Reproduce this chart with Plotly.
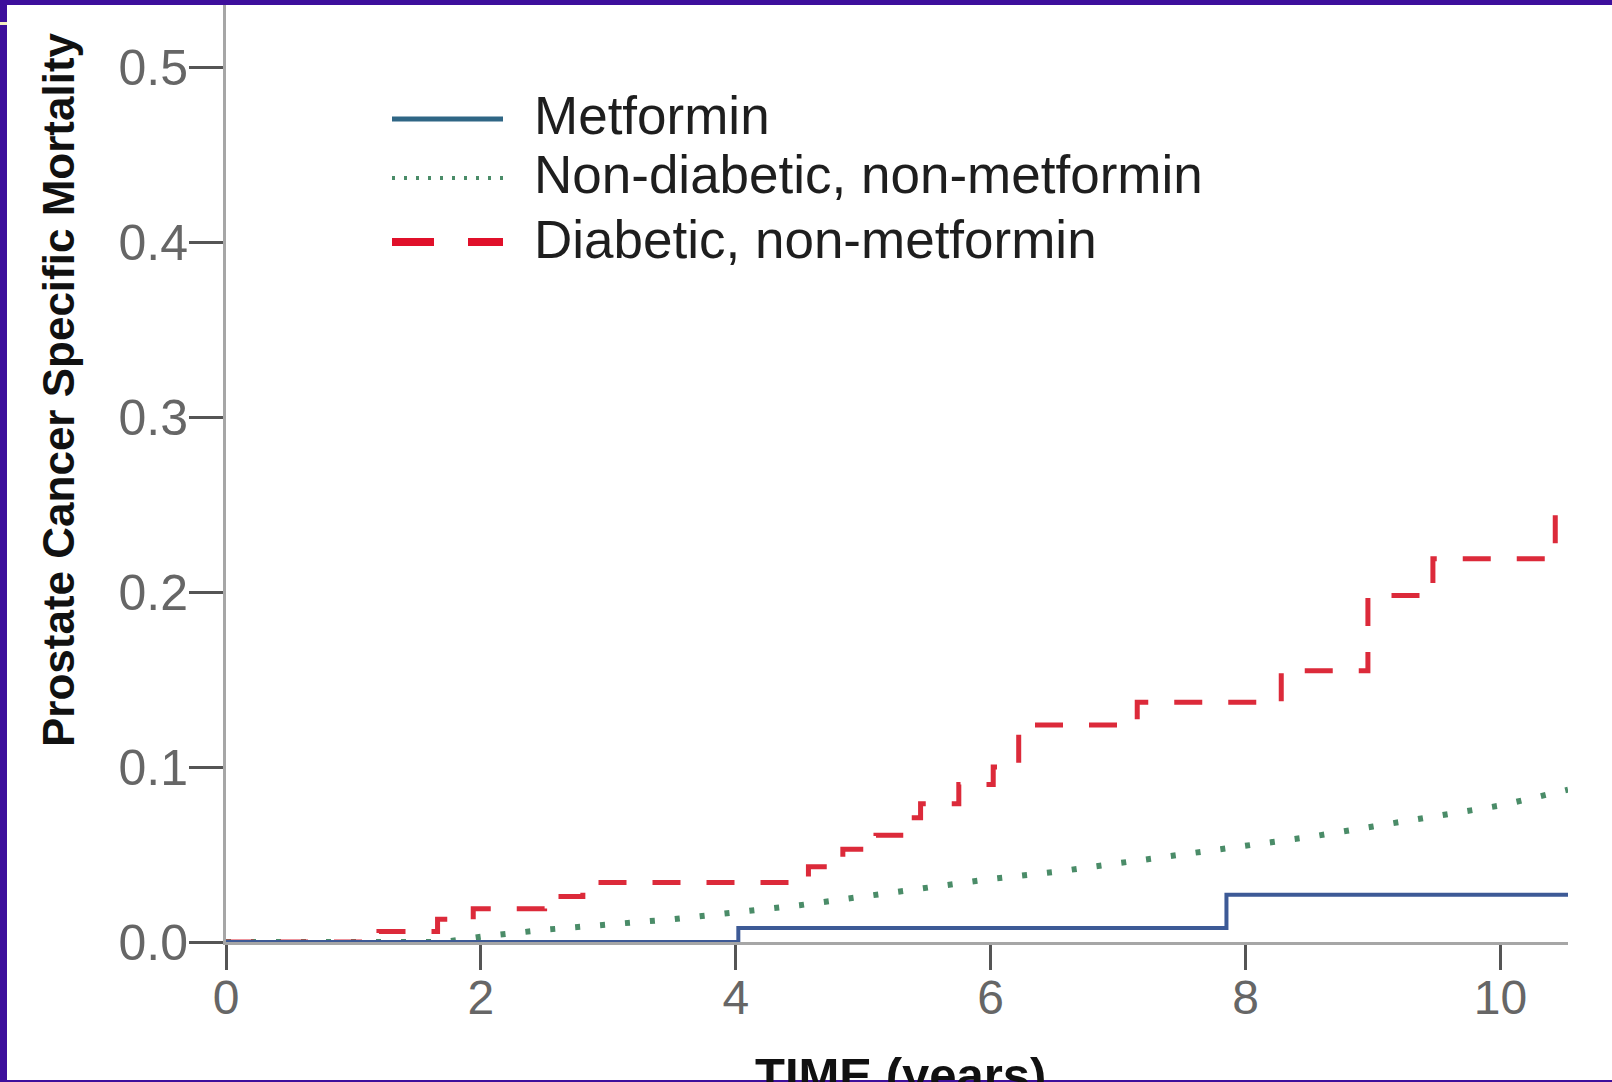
import plotly.graph_objects as go

# ---------------- data ----------------
series_names = ["Metformin", "Non-diabetic, non-metformin", "Diabetic, non-metformin"]

metformin_t = [0, 4.02, 7.85, 10.53]
metformin_v = [0.0, 0.008, 0.027, 0.027]

nondiab_t = [0, 1.7, 2.0, 2.5, 3.0, 3.5, 4.0, 4.5, 5.0, 5.5, 6.0, 6.5, 7.0, 7.5, 8.0, 8.5, 9.0, 9.5, 10.0, 10.53]
nondiab_v = [0.0, 0.0, 0.003, 0.007, 0.010, 0.013, 0.017, 0.021, 0.026, 0.031, 0.036, 0.040, 0.045, 0.050, 0.055, 0.060, 0.066, 0.072, 0.078, 0.087]

diab_t = [0, 1.2, 1.66, 1.94, 2.5, 2.8, 4.57, 4.84, 5.1, 5.34, 5.45, 5.75, 6.02, 6.22, 7.15, 8.28, 8.96, 9.47, 10.43, 10.47]
diab_v = [0.0, 0.006, 0.013, 0.019, 0.026, 0.034, 0.043, 0.053, 0.061, 0.071, 0.079, 0.090, 0.100, 0.124, 0.137, 0.155, 0.198, 0.219, 0.247, 0.247]

x_ticks = [0, 2, 4, 6, 8, 10]
y_ticks = [0.0, 0.1, 0.2, 0.3, 0.4, 0.5]

x_title = "TIME (years)"
y_title = "Prostate Cancer Specific Mortality"

# ---------------- style ----------------
W, H = 1612, 1082
ML, MR, MT, MB = 226, 44, 0, 140
PW, PH = W - ML - MR, H - MT - MB
FONT = "Liberation Sans, Arial, sans-serif"

C_BLUE = "#3d5a96"
C_GREEN = "#4a8c68"
C_RED = "#dc2a3a"
C_BORDER = "#3d0f9c"


def px(xp):
    return (xp - ML) / PW


def py(yp):
    return (H - MB - yp) / PH


fig = go.Figure()
fig.add_trace(go.Scatter(x=nondiab_t, y=nondiab_v, mode="lines", name=series_names[1],
                         line=dict(color=C_GREEN, width=6, dash="5px,20px"), cliponaxis=False))
fig.add_trace(go.Scatter(x=diab_t, y=diab_v, mode="lines", name=series_names[2], line_shape="hv",
                         line=dict(color=C_RED, width=5, dash="28px,26px"), cliponaxis=False))
fig.add_trace(go.Scatter(x=metformin_t, y=metformin_v, mode="lines", name=series_names[0], line_shape="hv",
                         line=dict(color=C_BLUE, width=4), cliponaxis=False))

shapes = []
annotations = []

# custom legend
leg_rows = [(series_names[0], 119, dict(color="#2f6685", width=5)),
            (series_names[1], 178, dict(color=C_GREEN, width=4, dash="3px,9px")),
            (series_names[2], 242, dict(color="#e0102a", width=8, dash="42px,34px"))]
for name, yy, ln in leg_rows:
    shapes.append(dict(type="line", xref="paper", yref="paper", x0=px(392), x1=px(503), y0=py(yy), y1=py(yy), line=ln))
    annotations.append(dict(text=name, xref="paper", yref="paper", x=px(532), y=py(yy - 3), xanchor="left",
                            yanchor="middle", showarrow=False, font=dict(family=FONT, size=53, color="#1e1e1e")))

# axis titles
annotations.append(dict(text="<b>%s</b>" % y_title, xref="paper", yref="paper", x=px(58), y=py(390), textangle=-90,
                        xanchor="center", yanchor="middle", showarrow=False,
                        font=dict(family=FONT, size=44, color="#111111")))
annotations.append(dict(text="<b>%s</b>" % x_title, xref="paper", yref="paper", x=px(900), y=py(1046),
                        xanchor="center", yanchor="top", showarrow=False,
                        font=dict(family=FONT, size=49, color="#111111")))

# frame border
shapes += [
    dict(type="rect", xref="paper", yref="paper", x0=px(0), x1=px(7), y0=py(H), y1=py(0), fillcolor=C_BORDER, line=dict(width=0), layer="above"),
    dict(type="rect", xref="paper", yref="paper", x0=px(0), x1=px(W), y0=py(5), y1=py(0), fillcolor=C_BORDER, line=dict(width=0), layer="above"),
    dict(type="rect", xref="paper", yref="paper", x0=px(0), x1=px(W), y0=py(H), y1=py(1080), fillcolor=C_BORDER, line=dict(width=0), layer="above"),
    dict(type="rect", xref="paper", yref="paper", x0=px(0), x1=px(7), y0=py(25), y1=py(22), fillcolor="#f3eec0", line=dict(width=0), layer="above"),
]

y_top = (H - MB - MT) / 1750.0

fig.update_layout(
    width=W, height=H, autosize=False,
    margin=dict(l=ML, r=MR, t=MT, b=MB, pad=0),
    paper_bgcolor="white", plot_bgcolor="white",
    showlegend=False,
    shapes=shapes, annotations=annotations,
    font=dict(family=FONT),
)
fig.update_xaxes(range=[0, 10.53], tickvals=x_ticks, ticktext=[str(v) for v in x_ticks],
                 showgrid=False, zeroline=False, showline=True, linecolor="#a6a6a6", linewidth=3,
                 ticks="outside", ticklen=25, tickwidth=3, tickcolor="#555555", ticklabelstandoff=-14,
                 tickfont=dict(family=FONT, size=48, color="#666666"), layer="below traces")
fig.update_yaxes(range=[0, y_top], tickvals=y_ticks, ticktext=["%.1f" % v for v in y_ticks],
                 showgrid=False, zeroline=False, showline=True, linecolor="#a6a6a6", linewidth=3,
                 ticks="outside", ticklen=34, tickwidth=3, tickcolor="#555555", ticklabelstandoff=-9,
                 tickfont=dict(family=FONT, size=50, color="#666666"), layer="below traces")

fig.write_html("out.html", config={"displayModeBar": False},
               post_script="document.body.style.margin='0';document.body.style.overflow='hidden';")
